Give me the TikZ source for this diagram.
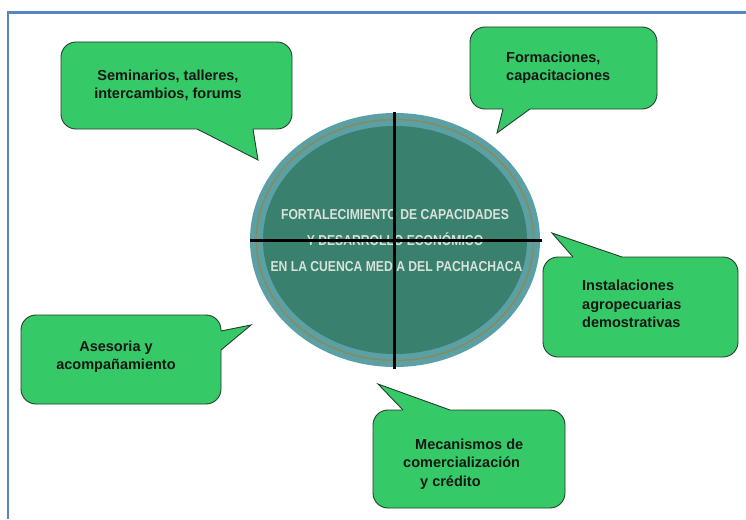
\documentclass[tikz,border=0pt]{standalone}
\usepackage{fontspec}
\setmainfont{Liberation Sans}
\newfontfamily\narrowfont[FakeStretch=0.845]{Liberation Sans}
\usetikzlibrary{shapes.geometric}
\definecolor{frameblue}{RGB}{84,134,196}
\definecolor{bubblegreen}{RGB}{53,201,104}
\definecolor{bubbleedge}{RGB}{40,62,46}
\definecolor{ringteal}{RGB}{90,160,165}
\definecolor{ringolive}{RGB}{140,138,88}
\definecolor{coreteal}{RGB}{58,128,110}
\definecolor{coretext}{RGB}{215,226,220}
\definecolor{inktext}{RGB}{20,24,20}
\begin{document}
\begin{tikzpicture}[x=1pt,y=-1pt,
  frameline/.style={draw=frameblue, line width=2.2pt},
  bubble/.style={rectangle, rounded corners=15pt, fill=bubblegreen, draw=bubbleedge, line width=0.9pt, inner sep=0pt},
  tailfill/.style={fill=bubblegreen},
  tailedge/.style={draw=bubbleedge, line width=0.9pt, line join=miter},
  bubbletext/.style={font=\fontsize{14.5}{18.5}\selectfont\bfseries, text=inktext, inner sep=0pt},
  coretextstyle/.style={font=\narrowfont\bfseries\fontsize{14.4}{16}\selectfont, text=coretext, inner sep=0pt, anchor=base},
  crossline/.style={draw=black, line width=3pt}]
\useasboundingbox (0,0) rectangle (746,519);
\fill[white] (0,0) rectangle (746,519);
% frame
\coordinate (fa) at (7.7,519);
\coordinate (fb) at (7.7,12.5);
\coordinate (fc) at (746,12.5);
\draw[frameline] (fa) -- (fb) -- (fc);
% central ellipse
\node[ellipse, fill=ringteal, minimum width=290pt, minimum height=254pt, inner sep=0pt] (core) at (395,240) {};
\node[ellipse, draw=ringolive, line width=1.5pt, minimum width=277pt, minimum height=241pt, inner sep=0pt] (ring) at (core.center) {};
\node[ellipse, fill=coreteal, minimum width=264pt, minimum height=228pt, inner sep=0pt] (inner) at (core.center) {};
\node[coretextstyle] (l1) at (395,219.3) {FORTALECIMIENTO DE CAPACIDADES};
\node[coretextstyle] (l2) at (395,245) {Y DESARROLLO ECONÓMICO};
\node[coretextstyle] (l3) at (396.5,271.7) {EN LA CUENCA MEDIA DEL PACHACHACA};
\coordinate (vtop) at (394,112);
\coordinate (vbot) at (394,369);
\coordinate (hleft) at (250,240);
\coordinate (hright) at (541.5,240);
\draw[crossline] (vtop) -- (vbot);
\draw[crossline] (hleft) -- (hright);
% bubble 1
\node[bubble, minimum width=231pt, minimum height=87pt] (b1) at (176.5,85.5) {};
\coordinate (t1a) at (197,129);
\coordinate (t1tip) at (258,160);
\coordinate (t1b) at (253,129);
\fill[tailfill] (t1a) -- (t1tip) -- (t1b) -- ([yshift=2pt]t1b) -- ([yshift=2pt]t1a) -- cycle;
\draw[tailedge] (t1a) -- (t1tip) -- (t1b);
\node[bubbletext, align=center, anchor=north] (b1t) at (168,69.3) {Seminarios, talleres,\\intercambios, forums};
% bubble 2
\node[bubble, minimum width=187pt, minimum height=82pt] (b2) at (563.5,68) {};
\coordinate (t2a) at (503,109);
\coordinate (t2tip) at (497,133);
\coordinate (t2b) at (530,109);
\fill[tailfill] (t2a) -- (t2tip) -- (t2b) -- ([yshift=2pt]t2b) -- ([yshift=2pt]t2a) -- cycle;
\draw[tailedge] (t2a) -- (t2tip) -- (t2b);
\node[bubbletext, align=left, anchor=north west] (b2t) at (506,51.7) {Formaciones,\\capacitaciones};
% bubble 3
\node[bubble, minimum width=195pt, minimum height=100pt] (b3) at (640.5,307) {};
\coordinate (t3a) at (573,257);
\coordinate (t3tip) at (552,233);
\coordinate (t3b) at (622,257);
\fill[tailfill] (t3a) -- (t3tip) -- (t3b) -- ([yshift=-2pt]t3b) -- ([yshift=-2pt]t3a) -- cycle;
\draw[tailedge] (t3a) -- (t3tip) -- (t3b);
\node[bubbletext, align=left, anchor=north west] (b3t) at (582,280) {Instalaciones\\agropecuarias\\demostrativas};
% bubble 4
\node[bubble, minimum width=200pt, minimum height=89pt] (b4) at (121,359.5) {};
\coordinate (t4a) at (221,331);
\coordinate (t4tip) at (251,325);
\coordinate (t4b) at (221,350);
\fill[tailfill] (t4a) -- (t4tip) -- (t4b) -- ([xshift=-2pt]t4b) -- ([xshift=-2pt]t4a) -- cycle;
\draw[tailedge] (t4a) -- (t4tip) -- (t4b);
\node[bubbletext, align=center, anchor=north] (b4t) at (116,340.7) {Asesoria y\\acompañamiento};
% bubble 5
\node[bubble, minimum width=192pt, minimum height=98pt] (b5) at (469,459) {};
\coordinate (t5a) at (403,410);
\coordinate (t5tip) at (378,384);
\coordinate (t5b) at (450,410);
\fill[tailfill] (t5a) -- (t5tip) -- (t5b) -- ([yshift=-2pt]t5b) -- ([yshift=-2pt]t5a) -- cycle;
\draw[tailedge] (t5a) -- (t5tip) -- (t5b);
\node[bubbletext, align=left, anchor=north west] (b5t) at (403,438.3) {\hspace*{12pt}Mecanismos de\\comercialización\\\hspace*{17pt}y crédito};
\end{tikzpicture}
\end{document}
